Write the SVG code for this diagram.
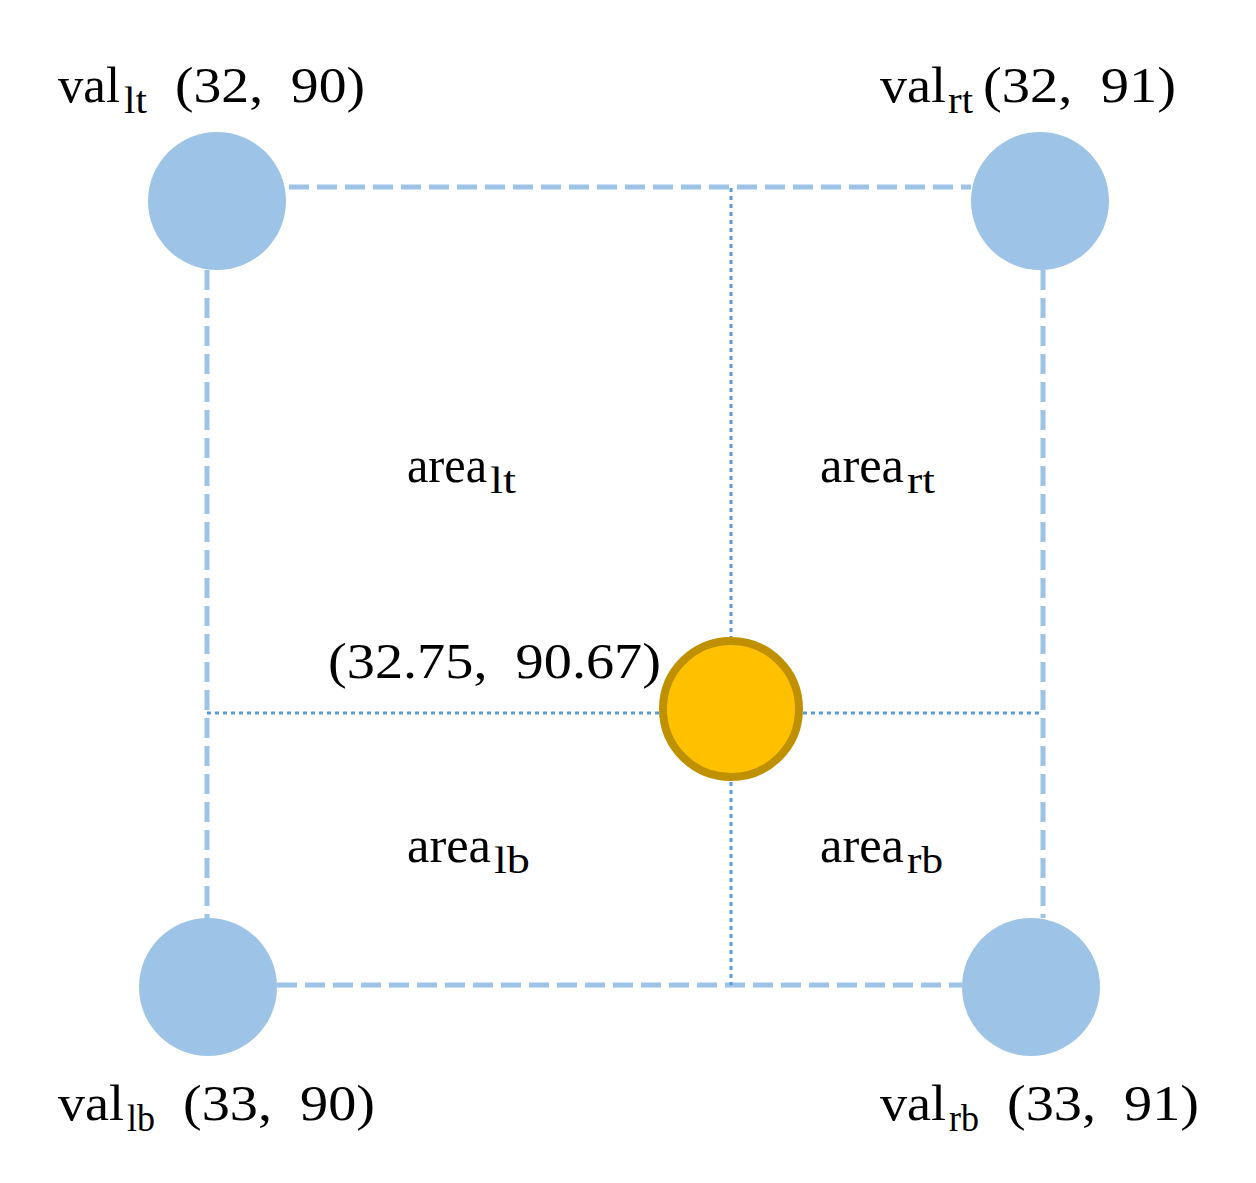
<svg xmlns="http://www.w3.org/2000/svg" width="1256" height="1183" viewBox="0 0 1256 1183">
<style>
.t{font-family:"Liberation Serif","Times New Roman",serif;font-size:51px;fill:#000;white-space:pre}
.s{font-family:"Liberation Serif","Times New Roman",serif;font-size:38px;fill:#000}
.dash{stroke:#9DC3E6;stroke-width:5;stroke-dasharray:20 8;fill:none}
.dot{stroke:#5B9BD5;stroke-width:3;stroke-dasharray:4 4;fill:none}
.corner{fill:#9DC3E6}
</style>
<rect width="1256" height="1183" fill="#fff"/>
<g id="connectors">
<line class="dash" x1="289" y1="187" x2="971" y2="187"/>
<line class="dash" x1="277" y1="985" x2="962" y2="985"/>
<line class="dash" x1="207" y1="270" x2="207" y2="918"/>
<line class="dash" x1="1043" y1="270" x2="1043" y2="918"/>
<line class="dot" x1="731" y1="188" x2="731" y2="637"/>
<line class="dot" x1="731" y1="782" x2="731" y2="985"/>
<line class="dot" x1="207" y1="713" x2="659" y2="713"/>
<line class="dot" x1="803" y1="713" x2="1043" y2="713"/>
</g>
<g id="node-lt">
<circle class="corner" cx="217" cy="201" r="69"/>
<text class="t" x="58" y="102" textLength="62" lengthAdjust="spacingAndGlyphs">val</text>
<text class="s" x="124" y="113" textLength="23" lengthAdjust="spacingAndGlyphs">lt</text>
<text class="t" x="175" y="102" textLength="190" lengthAdjust="spacingAndGlyphs">(32,  90)</text>
</g>
<g id="node-rt">
<circle class="corner" cx="1040" cy="201" r="69"/>
<text class="t" x="880" y="102" textLength="66" lengthAdjust="spacingAndGlyphs">val</text>
<text class="s" x="948" y="113" textLength="25" lengthAdjust="spacingAndGlyphs">rt</text>
<text class="t" x="983" y="102" textLength="193" lengthAdjust="spacingAndGlyphs">(32,  91)</text>
</g>
<g id="node-lb">
<circle class="corner" cx="208" cy="987" r="69"/>
<text class="t" x="58" y="1120" textLength="66" lengthAdjust="spacingAndGlyphs">val</text>
<text class="s" x="127" y="1131" textLength="28" lengthAdjust="spacingAndGlyphs">lb</text>
<text class="t" x="183" y="1120" textLength="192" lengthAdjust="spacingAndGlyphs">(33,  90)</text>
</g>
<g id="node-rb">
<circle class="corner" cx="1031" cy="987" r="69"/>
<text class="t" x="880" y="1120" textLength="66" lengthAdjust="spacingAndGlyphs">val</text>
<text class="s" x="949" y="1131" textLength="30" lengthAdjust="spacingAndGlyphs">rb</text>
<text class="t" x="1007" y="1120" textLength="192" lengthAdjust="spacingAndGlyphs">(33,  91)</text>
</g>
<g id="node-center">
<circle cx="731" cy="709" r="68" fill="#FFC000" stroke="#BF9000" stroke-width="8"/>
<text class="t" x="328" y="678" textLength="333" lengthAdjust="spacingAndGlyphs">(32.75,  90.67)</text>
</g>
<g id="area-lt">
<text class="t" x="407" y="482" textLength="80" lengthAdjust="spacingAndGlyphs">area</text>
<text class="s" x="490" y="493" textLength="26" lengthAdjust="spacingAndGlyphs">lt</text>
</g>
<g id="area-rt">
<text class="t" x="820" y="482" textLength="84" lengthAdjust="spacingAndGlyphs">area</text>
<text class="s" x="907" y="493" textLength="28" lengthAdjust="spacingAndGlyphs">rt</text>
</g>
<g id="area-lb">
<text class="t" x="407" y="862" textLength="84" lengthAdjust="spacingAndGlyphs">area</text>
<text class="s" x="494" y="873" textLength="36" lengthAdjust="spacingAndGlyphs">lb</text>
</g>
<g id="area-rb">
<text class="t" x="820" y="862" textLength="84" lengthAdjust="spacingAndGlyphs">area</text>
<text class="s" x="907" y="873" textLength="36" lengthAdjust="spacingAndGlyphs">rb</text>
</g>
</svg>
